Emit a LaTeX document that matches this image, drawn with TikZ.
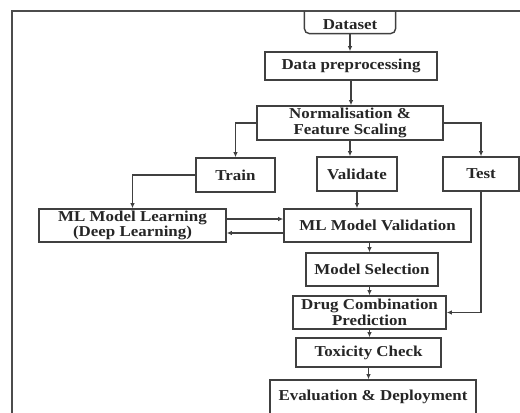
\documentclass[tikz,border=0pt]{standalone}
\usepackage{fontspec}
\setmainfont{Liberation Serif}[FakeStretch=1.12]
\usetikzlibrary{arrows.meta}

\begin{document}
\begin{tikzpicture}[x=0.02cm,y=-0.02cm,
  box/.style={draw=black!75, line width=0.8pt, fill=white, align=center, inner sep=0pt,
    font=\fontsize{8.6}{9}\selectfont\bfseries, text=black!85},
  link/.style={draw=black!75, line width=0.7pt, -{Latex[length=3pt,width=2.6pt]}}]

\useasboundingbox (0,0) rectangle (520,412);
\clip (0,0) rectangle (520,412);
\fill[white] (0,0) rectangle (520,412);
\draw[black!70, line width=1pt] (12,11) rectangle (530,425);

\node[box, draw=none, fill=none, minimum width=1.8cm, minimum height=0.34cm] (data) at (350,24.5) {Dataset};
\draw[black!75, line width=0.8pt, rounded corners=3pt] (data.south west |- 0,11) -- (data.south west) -- (data.south east) -- (data.south east |- 0,11);

\node[box, minimum width=3.44cm, minimum height=0.56cm] (prep) at (351,66) {Data preprocessing};
\node[box, minimum width=3.72cm, minimum height=0.68cm] (norm) at (350,123) {Normalisation \&\\Feature Scaling};

\node[box, minimum width=1.58cm, minimum height=0.68cm] (train) at (235.5,175) {Train};
\node[box, minimum width=1.6cm, minimum height=0.68cm] (valid) at (357,174) {Validate};
\node[box, minimum width=1.52cm, minimum height=0.68cm] (test) at (481,174) {Test};

\node[box, minimum width=3.74cm, minimum height=0.66cm] (learn) at (132.5,225.5) {ML Model Learning\\(Deep Learning)};
\node[box, minimum width=3.74cm, minimum height=0.66cm] (mval) at (377.5,225.5) {ML Model Validation};
\node[box, minimum width=2.64cm, minimum height=0.66cm] (select) at (372,269.5) {Model Selection};
\node[box, minimum width=3.06cm, minimum height=0.66cm] (drug) at (369.5,312.5) {Drug Combination\\Prediction};
\node[box, minimum width=2.9cm, minimum height=0.58cm] (tox) at (368.5,352.5) {Toxicity Check};
\node[box, minimum width=4.12cm, minimum height=0.68cm] (eval) at (373,397) {Evaluation \& Deployment};

% data flow
\draw[link] (data.south) -- (data.south |- prep.north);
\draw[link] (prep.south) -- (prep.south |- norm.north);
\draw[link] (norm.west) -| (train.north);
\draw[link] (norm.south) -- (norm.south |- valid.north);
\draw[link] (norm.east) -| (test.north);
\draw[link] (train.west) -| (learn.north);
\draw[link] ([yshift=0.13cm]learn.east) -- ([yshift=0.13cm]learn.east -| mval.west);
\draw[link] ([yshift=-0.15cm]mval.west) -- ([yshift=-0.15cm]mval.west -| learn.east);
\draw[link] (valid.south) -- (valid.south |- mval.north);
\draw[link] (mval.south -| drug) -- (drug |- select.north);
\draw[link] (select.south -| drug) -- (drug.north);
\draw[link] (drug.south) -- (drug.south |- tox.north);
\draw[link] (tox.south) -- (tox.south |- eval.north);
\draw[link] (test.south) |- (drug.east);

\end{tikzpicture}
\end{document}
